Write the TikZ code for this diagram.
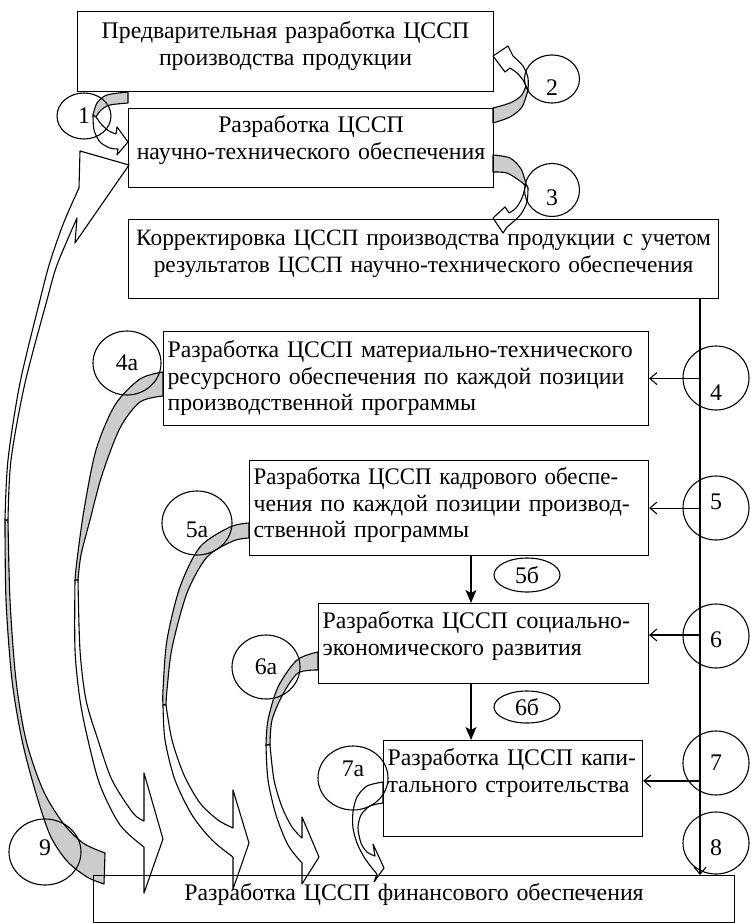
\documentclass[tikz,border=0pt]{standalone}
\usepackage{fontspec}
\usepackage{graphicx}
\setmainfont{Liberation Serif}
\usetikzlibrary{arrows.meta,shapes.geometric}

\tikzset{
  box/.style={draw, line width=1.1pt, inner xsep=4pt, inner ysep=0pt,
    align=center, text height=16pt, font=\fontsize{23.8}{26.5}\selectfont},
  lbox/.style={box, align=left},
  num/.style={ellipse, draw, line width=1.1pt, inner sep=0pt,
    minimum width=66pt, minimum height=64pt, font=\fontsize{23.8}{26.5}\selectfont},
  band/.style={draw, fill=white, line width=1.1pt, line join=round},
  bandback/.style={band, fill=gray!40},
  barb/.style={-{Straight Barb[length=7pt,width=12pt]}, line width=1.1pt},
  down/.style={-{Stealth[length=13pt,width=11pt,inset=3pt]}, line width=1.1pt}
}

\begin{document}
\begin{tikzpicture}[x=1pt,y=-1pt]
\useasboundingbox (0,0) rectangle (751,923);

% curved ribbons
\path[bandback] plot[smooth] coordinates {(128,92) (107,95) (97,103) (93,115)}
  -- plot[smooth] coordinates {(96,117) (101,110) (110,105) (128,103)} -- cycle;
\path[band] plot[smooth] coordinates {(93,115) (94,130) (100,142) (110,148) (118,149)}
  -- (117,155) -- (128,142) -- (117,127) -- (116,134)
  -- plot[smooth] coordinates {(116,134) (109,131) (102,125) (96,117)} -- cycle;

\path[bandback] plot[smooth] coordinates {(493,108) (510,103) (521,96) (526,86)}
  -- plot[smooth] coordinates {(528,90) (522,107) (510,117) (493,123)} -- cycle;
\path[band] plot[smooth] coordinates {(528,90) (528,78) (523,66) (513,56)}
  -- (508,46) -- (493,56) -- (505,72) -- (510,68)
  -- plot[smooth] coordinates {(510,68) (517,73) (523,80) (526,86)} -- cycle;

\path[bandback] plot[smooth] coordinates {(493,155) (510,158) (521,169) (526,184)}
  -- plot[smooth] coordinates {(528,188) (520,181) (507,173) (493,172)} -- cycle;
\path[band] plot[smooth] coordinates {(528,188) (527,202) (521,214) (513,222) (507,227)}
  -- (503,233) -- (493,218) -- (505,207) -- (509,213)
  -- plot[smooth] coordinates {(509,213) (516,208) (522,198) (526,184)} -- cycle;

\path[bandback] plot[smooth] coordinates {(163,372) (140,379) (115,405) (96,450) (84,510) (77,560) (75,580)}
  -- plot[smooth] coordinates {(78,580) (81,555) (90,520) (102,475) (120,428) (140,402) (163,396)} -- cycle;
\path[band] plot[smooth] coordinates {(75,580) (75,650) (80,700) (88,740) (100,785) (120,825) (144,847)}
  -- (144,893) -- (163,839) -- (144,773) -- (144,821)
  -- plot[smooth] coordinates {(144,821) (133,813) (112,780) (98,740) (86,700) (80,650) (78,580)} -- cycle;

\path[bandback] plot[smooth] coordinates {(249,523) (230,527) (200,547) (180,587) (167,640) (163,690) (163,705)}
  -- plot[smooth] coordinates {(166,705) (167,690) (172,648) (187,593) (207,557) (233,541) (249,538)} -- cycle;
\path[band] plot[smooth] coordinates {(163,705) (165,740) (175,780) (192,815) (212,840) (233,857)}
  -- (233,889) -- (249,843) -- (233,790) -- (233,828)
  -- plot[smooth] coordinates {(233,828) (218,820) (200,803) (184,775) (172,740) (166,705)} -- cycle;

\path[bandback] plot[smooth] coordinates {(318,652) (297,660) (278,687) (268,720) (266,745)}
  -- plot[smooth] coordinates {(270,745) (272,720) (283,694) (298,673) (318,670)} -- cycle;
\path[band] plot[smooth] coordinates {(266,745) (268,780) (276,815) (288,845) (302,863)}
  -- (302,884) -- (319,857) -- (302,817) -- (302,838)
  -- plot[smooth] coordinates {(302,838) (292,827) (282,807) (274,780) (270,745)} -- cycle;

\path[band] plot[smooth] coordinates {(383,782) (367,786) (357,797) (353,812) (353,828) (357,843) (364,857) (372,868) (377,874)}
  -- (374,882) -- (384,868) -- (373,844) -- (375,856)
  -- plot[smooth] coordinates {(375,856) (367,852) (361,843) (358,828) (361,815) (370,806) (383,803)} -- cycle;

\path[bandback] plot[smooth] coordinates {(104,884) (87,877) (67,861) (50,835) (35,790) (22,740) (12,680) (6,600) (5,520)}
  -- plot[smooth] coordinates {(8,520) (10,600) (16,680) (26,740) (43,790) (63,823) (83,843) (105,853)} -- cycle;
\path[band] plot[smooth] coordinates {(5,520) (8,460) (20,383) (40,300) (50,262) (64,222) (79,188)}
  -- (80,151) -- (129,165) -- (75,243) -- (77,218)
  -- plot[smooth] coordinates {(77,218) (57,265) (47,300) (25,383) (11,460) (8,520)} -- cycle;

% boxes
\node[box, text depth=42pt, text width=408pt, minimum width=416pt, minimum height=80pt, anchor=north west] (prelim) at (77,11)
  {Предварительная разработка ЦССП\\производства продукции};
\node[box, text depth=47pt, text width=357pt, minimum width=365pt, minimum height=79pt, anchor=north west] (nauch) at (128,108)
  {Разработка ЦССП\\научно-технического обеспечения};
\node[box, font=\fontsize{23.4}{26.5}\selectfont, inner xsep=0pt, text depth=43pt, text width=590pt, minimum width=590pt, minimum height=79pt, anchor=north west] (corr) at (128,219)
  {Корректировка ЦССП производства продукции с учетом\\результатов ЦССП научно-технического обеспечения};
\node[lbox, text depth=58pt, text width=477pt, minimum width=485pt, minimum height=94pt, anchor=north west] (mat) at (163,331)
  {Разработка ЦССП материально-технического\\ресурсного обеспечения по каждой позиции\\производственной программы};
\node[lbox, text depth=63pt, text width=391pt, minimum width=399pt, minimum height=95pt, anchor=north west] (kadr) at (249,460)
  {\scalebox{0.96}[1]{Разработка ЦССП кадрового обеспе-}\\чения по каждой позиции производ-\\ственной программы};
\node[lbox, text depth=46pt, text width=322pt, minimum width=330pt, minimum height=80pt, anchor=north west] (soc) at (318,603)
  {Разработка ЦССП социально-\\экономического развития};
\node[lbox, text depth=62pt, text width=251pt, minimum width=259pt, minimum height=96pt, anchor=north west] (kap) at (383,740)
  {Разработка ЦССП капи-\\тального строительства};
\node[box, text depth=13pt, text width=633pt, minimum width=641pt, minimum height=47pt, anchor=north west] (fin) at (93,875)
  {Разработка ЦССП финансового обеспечения};

% straight arrows
\coordinate (railtop) at (700,298);
\coordinate (railend) at (fin.north -| railtop);
\coordinate (r6) at (700,635);
\coordinate (r7) at (700,781);
\draw[barb] (railtop) -- (railend);
\draw[barb] (railtop |- mat.east) -- (mat.east);
\draw[barb] (railtop |- kadr.east) -- (kadr.east);
\draw[barb] (r6) -- (r6 -| soc.east);
\draw[barb] (r7) -- (r7 -| kap.east);
\coordinate (k5) at (471,555);
\coordinate (s6) at (471,683);
\draw[down] (k5) -- (k5 |- soc.north);
\draw[down] (s6) -- (s6 |- kap.north);

% numbers
\node[num, minimum width=54pt, minimum height=46pt] (n1) at (84,116) {1};
\node[num, text height=34pt, minimum width=55pt, minimum height=48pt] (n2) at (552,79) {2};
\node[num, text height=32pt, minimum width=55pt, minimum height=53pt] (n3) at (552,190) {3};
\node[num, text height=44pt] (n4) at (716,378) {4};
\node[num, minimum width=68pt] (n4a) at (127,363) {4а};
\node[num, text height=4pt] (n5) at (716,508) {5};
\node[num, text height=30pt, minimum width=70pt] (n5a) at (197,523) {5а};
\node[num, minimum width=66pt, minimum height=34pt] (n5b) at (527,575) {5б};
\node[num, text height=24pt] (n6) at (716,636) {6};
\node[num, minimum width=68pt] (n6a) at (266,667) {6а};
\node[num, minimum width=66pt, minimum height=32pt] (n6b) at (527,707) {6б};
\node[num] (n7) at (716,763) {7};
\node[num, text height=0pt, text depth=4pt, minimum width=70pt] (n7a) at (353,778) {7а};
\node[num, text height=26pt, minimum height=62pt] (n8) at (716,843) {8};
\node[num, text height=8pt, minimum width=72pt, minimum height=66pt] (n9) at (45,852) {9};
\end{tikzpicture}
\end{document}
